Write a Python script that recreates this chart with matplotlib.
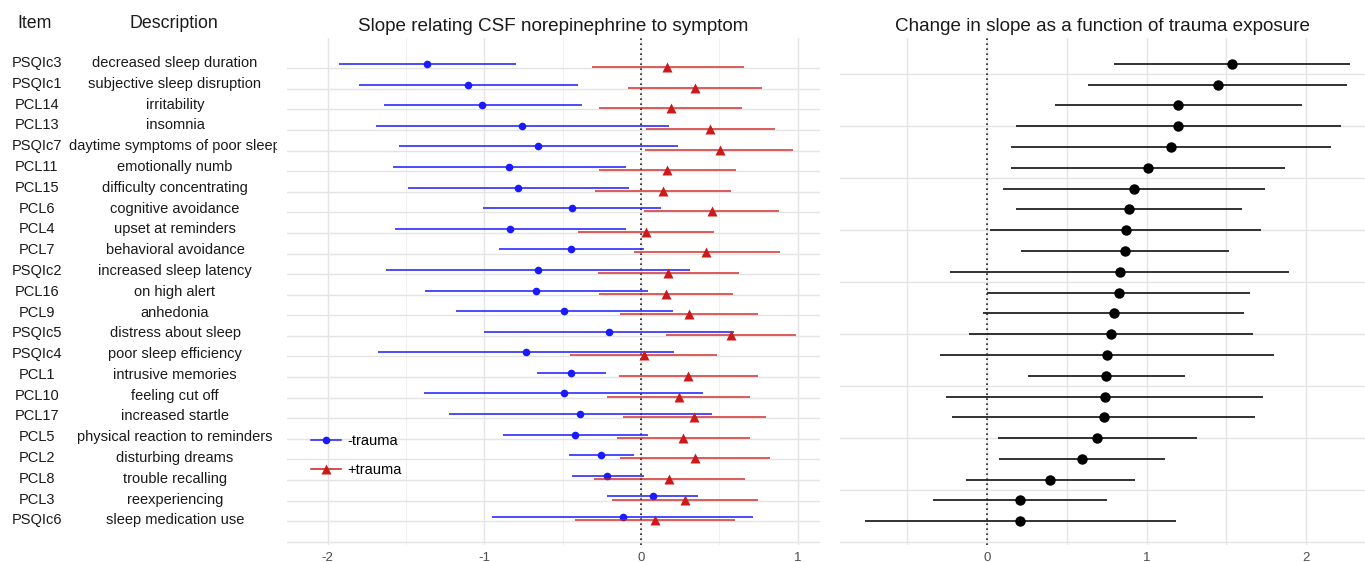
import numpy as np
import matplotlib
matplotlib.use("Agg")
import matplotlib.pyplot as plt
from matplotlib.lines import Line2D

plt.rcParams['font.family'] = ['Liberation Sans', 'DejaVu Sans']
plt.rcParams['axes.unicode_minus'] = False

# rows listed top to bottom
items = ["PSQIc3", "PSQIc1", "PCL14", "PCL13", "PSQIc7", "PCL11", "PCL15", "PCL6",
         "PCL4", "PCL7", "PSQIc2", "PCL16", "PCL9", "PSQIc5", "PSQIc4", "PCL1",
         "PCL10", "PCL17", "PCL5", "PCL2", "PCL8", "PCL3", "PSQIc6"]
descriptions = ["decreased sleep duration", "subjective sleep disruption", "irritability",
                "insomnia", "daytime symptoms of poor sleep", "emotionally numb",
                "difficulty concentrating", "cognitive avoidance", "upset at reminders",
                "behavioral avoidance", "increased sleep latency", "on high alert",
                "anhedonia", "distress about sleep", "poor sleep efficiency",
                "intrusive memories", "feeling cut off", "increased startle",
                "physical reaction to reminders", "disturbing dreams", "trouble recalling",
                "reexperiencing", "sleep medication use"]

# -trauma slope (blue)
neg_est = [-1.363, -1.102, -1.013, -0.759, -0.655, -0.840, -0.782, -0.441, -0.835, -0.448,
           -0.657, -0.668, -0.490, -0.205, -0.735, -0.448, -0.494, -0.390, -0.421, -0.254,
           -0.214, 0.076, -0.118]
neg_lo = [-1.929, -1.797, -1.641, -1.690, -1.546, -1.584, -1.486, -1.009, -1.568, -0.909,
          -1.626, -1.379, -1.183, -1.002, -1.679, -0.666, -1.383, -1.227, -0.882, -0.461,
          -0.441, -0.214, -0.953]
neg_hi = [-0.797, -0.405, -0.379, 0.176, 0.238, -0.096, -0.076, 0.127, -0.096, 0.018,
          0.312, 0.042, 0.203, 0.595, 0.212, -0.223, 0.394, 0.450, 0.042, -0.042,
          0.016, 0.365, 0.717]

# +trauma slope (red)
pos_est = [0.167, 0.343, 0.192, 0.443, 0.503, 0.167, 0.138, 0.450, 0.033, 0.416,
           0.171, 0.158, 0.305, 0.575, 0.016, 0.301, 0.241, 0.339, 0.269, 0.343,
           0.180, 0.281, 0.087]
pos_lo = [-0.316, -0.085, -0.265, 0.031, 0.027, -0.267, -0.292, 0.018, -0.401, -0.047,
          -0.276, -0.267, -0.136, 0.160, -0.454, -0.140, -0.214, -0.118, -0.154, -0.136,
          -0.298, -0.183, -0.419]
pos_hi = [0.657, 0.771, 0.646, 0.855, 0.971, 0.608, 0.572, 0.880, 0.468, 0.886,
          0.626, 0.584, 0.748, 0.987, 0.486, 0.746, 0.697, 0.797, 0.695, 0.822,
          0.664, 0.748, 0.597]

# change in slope (black)
chg_est = [1.534, 1.444, 1.199, 1.199, 1.154, 1.006, 0.921, 0.887, 0.870, 0.863,
           0.831, 0.827, 0.795, 0.778, 0.752, 0.748, 0.737, 0.731, 0.692, 0.594,
           0.397, 0.207, 0.207]
chg_lo = [0.795, 0.635, 0.427, 0.184, 0.152, 0.152, 0.100, 0.179, 0.017, 0.214,
          -0.229, 0.002, -0.024, -0.113, -0.297, 0.254, -0.254, -0.220, 0.066, 0.077,
          -0.132, -0.340, -0.767]
chg_hi = [2.271, 2.254, 1.972, 2.216, 2.158, 1.865, 1.744, 1.598, 1.716, 1.515,
          1.895, 1.650, 1.613, 1.667, 1.797, 1.239, 1.729, 1.682, 1.314, 1.115,
          0.925, 0.752, 1.182]

n = len(items)
ypos = np.arange(n, 0, -1)  # top row = n

BLUE = "#1a1aff"
RED = "#cc1a1a"
GRID = "#e4e4e4"
GRID_MINOR = "#f0f0f0"

W, H = 1365, 562
fig = plt.figure(figsize=(W / 100, H / 100), dpi=100)


def px_axes(x0, x1, ytop, ybot):
    return fig.add_axes([x0 / W, (H - ybot) / H, (x1 - x0) / W, (ybot - ytop) / H])


def style(ax):
    for s in ax.spines.values():
        s.set_visible(False)
    ax.tick_params(length=0, pad=5, labelsize=9.5, labelcolor="#4d4d4d")
    ax.set_axisbelow(True)


# ---- middle panel
ax1 = px_axes(287, 820, 38, 545)
style(ax1)
ax1.set_xlim(-2.259, 1.142)
ax1.set_ylim(-0.16, 24.47)
ax1.set_xticks([-2, -1, 0, 1])
ax1.set_xticks([-1.5, -0.5, 0.5], minor=True)
ax1.set_yticks(np.arange(0, n + 1))
ax1.set_yticklabels([])
ax1.grid(True, which="major", color=GRID, lw=1.0)
ax1.grid(True, which="minor", axis="x", color=GRID_MINOR, lw=0.7)
ax1.tick_params(which="minor", length=0)
ax1.axvline(0, color="#222222", ls=(0, (1, 2)), lw=1.2)
ax1.hlines(ypos + 0.2, neg_lo, neg_hi, color=BLUE, lw=1.1)
ax1.plot(neg_est, ypos + 0.2, "o", color=BLUE, ms=5.5, mec="none")
ax1.hlines(ypos + 0.05, pos_lo, pos_hi, color=RED, lw=1.1, alpha=0.9)
ax1.plot(pos_est, ypos + 0.05, "^", color=RED, ms=7, mec="none")
ax1.set_title("Slope relating CSF norepinephrine to symptom", fontsize=13.6,
              color="#1a1a1a", pad=5)
handles = [Line2D([], [], color=BLUE, lw=1.1, marker="o", ms=5.5, mec="none"),
           Line2D([], [], color=RED, lw=1.1, marker="^", ms=7, mec="none")]
ax1.legend(handles, ["-trauma", "+trauma"], loc="upper left",
           bbox_to_anchor=(0.02, 0.245), frameon=False, fontsize=10.5,
           handlelength=2.1, handletextpad=0.4, labelspacing=1.05)

# ---- right panel
ax2 = px_axes(840, 1365, 38, 545)
style(ax2)
ax2.set_xlim(-0.921, 2.368)
ax2.set_ylim(-0.14, 24.24)
ax2.set_xticks([0, 1, 2])
ax2.set_xticks([-0.5, 0.5, 1.5], minor=True)
ax2.set_yticks(np.arange(0, 23, 2.5))
ax2.set_yticklabels([])
ax2.grid(True, which="major", color=GRID, lw=1.0)
ax2.grid(True, which="minor", axis="x", color=GRID, lw=1.0)
ax2.tick_params(which="minor", length=0)
ax2.axvline(0, color="#222222", ls=(0, (1, 2)), lw=1.2)
ax2.hlines(ypos, chg_lo, chg_hi, color="#222222", lw=1.3)
ax2.plot(chg_est, ypos, "o", color="black", ms=7.5, mec="none")
ax2.set_title("Change in slope as a function of trauma exposure", fontsize=13.6,
              color="#1a1a1a", pad=5)

# ---- label table on the left (clipped at the panel edge)
ax0 = px_axes(0, 277, 38, 545)
ax0.set_xlim(0, 277)
ax0.set_ylim(-0.14, 24.24)
ax0.axis("off")
for y, it, d in zip(ypos, items, descriptions):
    ax0.text(37, y + 0.04, it, ha="center", va="center", fontsize=10.5,
             color="#1a1a1a", clip_on=True)
    ax0.text(175, y + 0.04, d, ha="center", va="center", fontsize=10.5,
             color="#1a1a1a", clip_on=True)
fig.text(35 / W, 1 - 24 / H, "Item", ha="center", va="center", fontsize=12.8,
         color="#1a1a1a")
fig.text(173.5 / W, 1 - 24 / H, "Description", ha="center", va="center", fontsize=12.8,
         color="#1a1a1a")

fig.savefig("out.png", dpi=100, facecolor="white")
